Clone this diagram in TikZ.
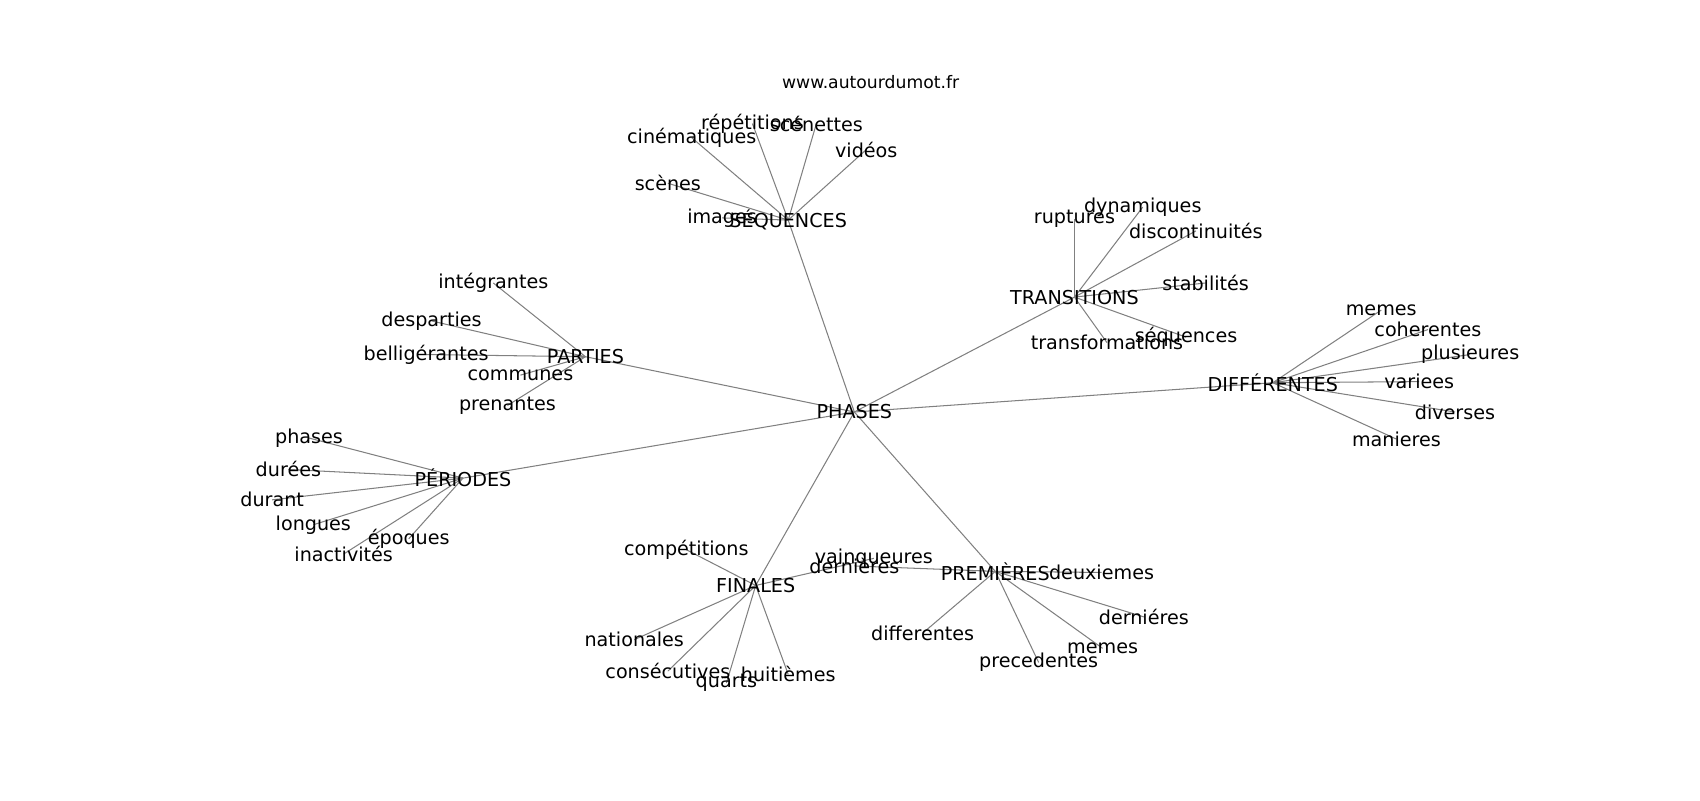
\documentclass[tikz,border=0pt]{standalone}
\usepackage{fontspec}
\setmainfont{DejaVu Sans}
\usepackage{tikz}
\usetikzlibrary{backgrounds}

\begin{document}
\begin{tikzpicture}[x=0.781pt,y=-0.781pt,every edge/.style={draw,gray,line width=0.75pt}]
  \tikzstyle{word}=[inner sep=0pt,text=black,font=\fontsize{13.8}{16}\selectfont]
  \tikzstyle{site}=[inner sep=0pt,text=black,font=\fontsize{12.4}{14}\selectfont]

  \useasboundingbox (0,0) rectangle (1568,738);

  \node[site] (www) at (803,76) {www.autourdumot.fr};

  % hubs
  \node[word] (PHA) at (788,380) {PHASES};
  \node[word] (SEQ) at (727,203) {SÉQUENCES};
  \node[word] (TRA) at (991,274) {TRANSITIONS};
  \node[word] (DIF) at (1174,353) {DIFFÉRENTES};
  \node[word] (PAR) at (540,329) {PARTIES};
  \node[word] (PER) at (427,441) {PÉRIODES};
  \node[word] (FIN) at (697,540) {FINALES};
  \node[word] (PRE) at (918,527) {PREMIÈRES};

  % SÉQUENCES
  \node[word] (repetitions) at (694,114) {répétitions};
  \node[word] (scenettes) at (753,114) {scénettes};
  \node[word] (cinematiques) at (638,127) {cinématiques};
  \node[word] (videos) at (799,138) {vidéos};
  \node[word] (scenes) at (616,169) {scènes};
  \node[word] (images) at (666,201) {images};

  % TRANSITIONS
  \node[word] (ruptures) at (991,202) {ruptures};
  \node[word] (dynamiques) at (1054,191) {dynamiques};
  \node[word] (discontinuites) at (1103,213) {discontinuités};
  \node[word] (stabilites) at (1112,261) {stabilités};
  \node[word] (transformations) at (1021,316) {transformations};
  \node[word] (sequences) at (1094,311) {séquences};

  % DIFFÉRENTES
  \node[word] (memes) at (1274,286) {memes};
  \node[word] (coherentes) at (1317,304) {coherentes};
  \node[word] (plusieures) at (1356,327) {plusieures};
  \node[word] (variees) at (1309,352) {variees};
  \node[word] (diverses) at (1342,380) {diverses};
  \node[word] (manieres) at (1288,405) {manieres};

  % PARTIES
  \node[word] (integrantes) at (455,261) {intégrantes};
  \node[word] (desparties) at (398,296) {desparties};
  \node[word] (belligerantes) at (393,327) {belligérantes};
  \node[word] (communes) at (480,346) {communes};
  \node[word] (prenantes) at (468,374) {prenantes};

  % PÉRIODES
  \node[word] (phases) at (285,404) {phases};
  \node[word] (durees) at (266,433) {durées};
  \node[word] (durant) at (251,461) {durant};
  \node[word] (longues) at (289,484) {longues};
  \node[word] (epoques) at (377,497) {époques};
  \node[word] (inactivites) at (317,511) {inactivités};

  % FINALES
  \node[word] (competitions) at (633,507) {compétitions};
  \node[word] (vainqueures) at (806,515) {vainqueures};
  \node[word] (dernieres) at (788,522) {dernières};
  \node[word] (nationales) at (585,590) {nationales};
  \node[word] (consecutives) at (616,619) {consécutives};
  \node[word] (quarts) at (670,630) {quarts};
  \node[word] (huitiemes) at (727,622) {huitièmes};

  % PREMIÈRES
  \node[word] (deuxiemes) at (1016,528) {deuxiemes};
  \node[word] (dernieres2) at (1055,569) {derniéres};
  \node[word] (memes2) at (1017,598) {memes};
  \node[word] (precedentes) at (958,611) {precedentes};
  \node[word] (differentes) at (851,584) {differentes};

  \begin{pgfonlayer}{background}
  \path (PHA.center) edge (SEQ.center)
                     edge (TRA.center)
                     edge (DIF.center)
                     edge (PAR.center)
                     edge (PER.center)
                     edge (FIN.center)
                     edge (PRE.center)
        (SEQ.center) edge (repetitions.center)
                     edge (scenettes.center)
                     edge (cinematiques.center)
                     edge (videos.center)
                     edge (scenes.center)
                     edge (images.center)
        (TRA.center) edge (ruptures.center)
                     edge (dynamiques.center)
                     edge (discontinuites.center)
                     edge (stabilites.center)
                     edge (transformations.center)
                     edge (sequences.center)
        (DIF.center) edge (memes.center)
                     edge (coherentes.center)
                     edge (plusieures.center)
                     edge (variees.center)
                     edge (diverses.center)
                     edge (manieres.center)
        (PAR.center) edge (integrantes.center)
                     edge (desparties.center)
                     edge (belligerantes.center)
                     edge (communes.center)
                     edge (prenantes.center)
        (PER.center) edge (phases.center)
                     edge (durees.center)
                     edge (durant.center)
                     edge (longues.center)
                     edge (epoques.center)
                     edge (inactivites.center)
        (FIN.center) edge (competitions.center)
                     edge (vainqueures.center)
                     edge (nationales.center)
                     edge (consecutives.center)
                     edge (quarts.center)
                     edge (huitiemes.center)
        (PRE.center) edge (dernieres.center)
                     edge (deuxiemes.center)
                     edge (dernieres2.center)
                     edge (memes2.center)
                     edge (precedentes.center)
                     edge (differentes.center);
  \end{pgfonlayer}
\end{tikzpicture}
\end{document}
